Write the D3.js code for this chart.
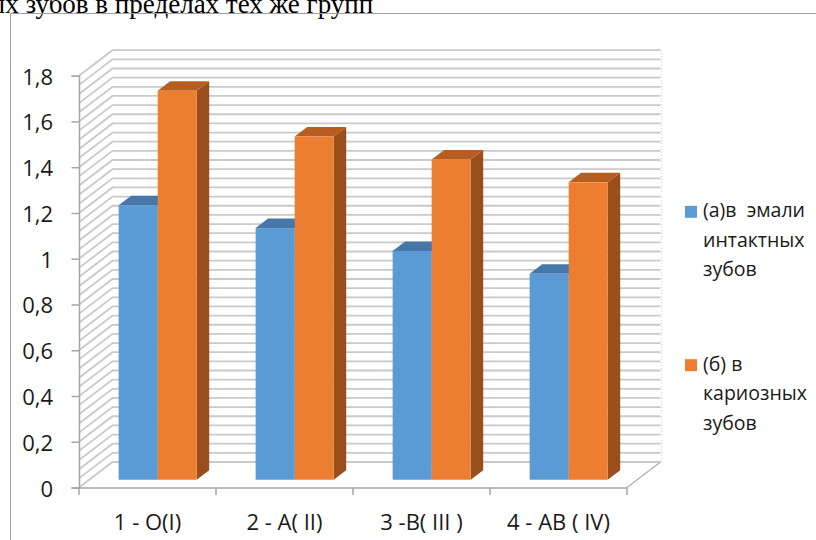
<!DOCTYPE html>
<html>
<head>
<meta charset="utf-8">
<script src="https://cdn.jsdelivr.net/npm/d3@7"></script>
<style>
  html, body { margin: 0; padding: 0; background: #fff; }
  svg { display: block; }
  text { font-family: "Open Sans", "Noto Sans", sans-serif; fill: #1a1a1a; }
</style>
</head>
<body>
<svg id="chart" width="816" height="540"></svg>
<script>
// Blood groups along the category axis
const categories = ["1 - O(I)", "2 - A( II)", "3 -B( III )", "4 - AB ( IV)"];
// Values per series
const intactEnamel = [1.2, 1.1, 1.0, 0.9];
const cariousTeeth = [1.7, 1.5, 1.4, 1.3];
// Legend lines per series
const legendIntact = ["(а)в  эмали", "интактных", "зубов"];
const legendCarious = ["(б) в", "кариозных", "зубов"];
// Value axis
const yTickValues = [0, 0.2, 0.4, 0.6, 0.8, 1.0, 1.2, 1.4, 1.6, 1.8];
const yTickLabels = ["0", "0,2", "0,4", "0,6", "0,8", "1", "1,2", "1,4", "1,6", "1,8"];
const minorStep = 0.04;
const headingText = "ых зубов в пределах тех же групп";

const series = [
  { key: "intact", values: intactEnamel, front: "#5B9BD5", top: "#4677A8", side: "#3E6A94", legend: legendIntact },
  { key: "carious", values: cariousTeeth, front: "#ED7D31", top: "#B85D20", side: "#9A4E1B", legend: legendCarious }
];

const svg = d3.select("#chart");

// heading fragment above the frame
svg.append("text")
  .attr("x", -13).attr("y", 13)
  .style("font-family", "'Liberation Serif', 'Times New Roman', serif")
  .style("font-size", "27px")
  .style("fill", "#000")
  .text(headingText);

// chart frame (left and top edges)
svg.append("path")
  .attr("d", "M10.5,540 L10.5,13.5 L816,13.5")
  .attr("fill", "none").attr("stroke", "#a0a0a0").attr("stroke-width", 1);

// front plane scales
const x = d3.scaleBand().domain(categories).range([79, 627]).paddingInner(0).paddingOuter(0);
const y = d3.scaleLinear().domain([0, 1.8]).range([487.5, 75.7]);

// oblique depth of the whole box and of a bar
const depth = { dx: 33.5, dy: -25.5 };
const barFront = 7.75 / 25.5;      // fraction of depth where bar fronts sit
const barDepth = 9.5 / 25.5;       // fraction of depth a bar occupies
const ox = f => depth.dx * f, oy = f => depth.dy * f;

// wall gridlines: left wall diagonal + back wall horizontal
const gridVals = d3.range(0, 1.8 + 1e-9, minorStep);
const gx0 = x.range()[0], gx1 = x.range()[1];
svg.append("g").selectAll("path").data(gridVals).join("path")
  .attr("d", v => `M${gx0},${y(v)} L${gx0 + depth.dx},${y(v) + depth.dy} L${gx1 + depth.dx},${y(v) + depth.dy}`)
  .attr("fill", "none").attr("stroke", "#c9c9c9").attr("stroke-width", 1.8);

// right edge of the floor
svg.append("path")
  .attr("d", `M${gx1},${y(0)} L${gx1 + depth.dx},${y(0) + depth.dy}`)
  .attr("stroke", "#b4b4b4").attr("stroke-width", 1.5).attr("fill", "none");

// faint right boundary of the back wall
svg.append("line")
  .attr("x1", gx1 + depth.dx + 1).attr("x2", gx1 + depth.dx + 1)
  .attr("y1", y(1.8) + depth.dy).attr("y2", y(0) + depth.dy)
  .attr("stroke", "#d0d0d0").attr("stroke-width", 1).attr("stroke-dasharray", "1,2");

// value axis
const yAxis = d3.axisLeft(y).tickValues(yTickValues).tickSize(7.5).tickFormat((d, i) => yTickLabels[i]);
const yg = svg.append("g").attr("transform", `translate(${gx0},0)`).call(yAxis);
yg.select(".domain").attr("stroke", "#a6a6a6").attr("stroke-width", 1.5);
yg.selectAll(".tick line").attr("stroke", "#a6a6a6").attr("stroke-width", 1.5);
yg.selectAll(".tick text")
  .attr("x", -26).attr("dy", null).attr("y", 8.5)
  .style("font-size", "22px").style("font-family", "'Open Sans', sans-serif")
  .attr("fill", "#1a1a1a");

// category axis
const xAxis = d3.axisBottom(x).tickSize(0).tickFormat(d => d);
const xg = svg.append("g").attr("transform", `translate(0,${y(0)})`).call(xAxis);
xg.select(".domain").attr("stroke", "#a6a6a6").attr("stroke-width", 1.5);
xg.selectAll(".tick text").attr("y", 42.5).attr("dy", null)
  .style("font-size", "22px").style("font-family", "'Open Sans', sans-serif").attr("fill", "#1a1a1a");
// boundary ticks between categories
const bounds = categories.map(c => x(c)).concat([gx1]);
xg.selectAll("line.bound").data(bounds).join("line").attr("class", "bound")
  .attr("x1", d => d).attr("x2", d => d).attr("y1", 0).attr("y2", 7.5)
  .attr("stroke", "#a6a6a6").attr("stroke-width", 1.5);

// bars with front, top and side faces
const band = x.bandwidth();
const barW = band * 0.285;
const groupOffset = (band - barW * series.length) / 2;
const fx = ox(barFront), fy = oy(barFront);
const bdx = ox(barDepth), bdy = oy(barDepth);

const bars = [];
categories.forEach((c, i) => {
  series.forEach((s, j) => bars.push({ c, v: s.values[i], s, j }));
});

const barG = svg.append("g").selectAll("g").data(bars).join("g");
barG.each(function (d) {
  const g = d3.select(this);
  const x0 = x(d.c) + groupOffset + d.j * barW + fx;
  const x1 = x0 + barW;
  const yb = y(0) + fy;
  const yt = y(d.v) + fy;
  // side face
  g.append("path")
    .attr("d", `M${x1},${yt} L${x1 + bdx},${yt + bdy} L${x1 + bdx},${yb + bdy} L${x1},${yb} Z`)
    .attr("fill", d.s.side);
  // top face
  g.append("path")
    .attr("d", `M${x0},${yt} L${x0 + bdx},${yt + bdy} L${x1 + bdx},${yt + bdy} L${x1},${yt} Z`)
    .attr("fill", d.s.top);
  // front face
  g.append("rect")
    .attr("x", x0).attr("y", yt).attr("width", barW).attr("height", yb - yt)
    .attr("fill", d.s.front);
});

// legend
const legendTop = [217.3, 370.7];
const lineGap = 29.5;
series.forEach((s, i) => {
  const base = legendTop[i];
  svg.append("rect").attr("x", 685).attr("y", base - 11.5).attr("width", 12).attr("height", 12).attr("fill", s.front);
  const t = svg.append("text").attr("x", 703).attr("y", base)
    .style("font-size", "19.5px").style("white-space", "pre");
  s.legend.forEach((line, k) => {
    t.append("tspan").attr("x", 703).attr("y", base + k * lineGap).text(line);
  });
});
</script>
</body>
</html>
